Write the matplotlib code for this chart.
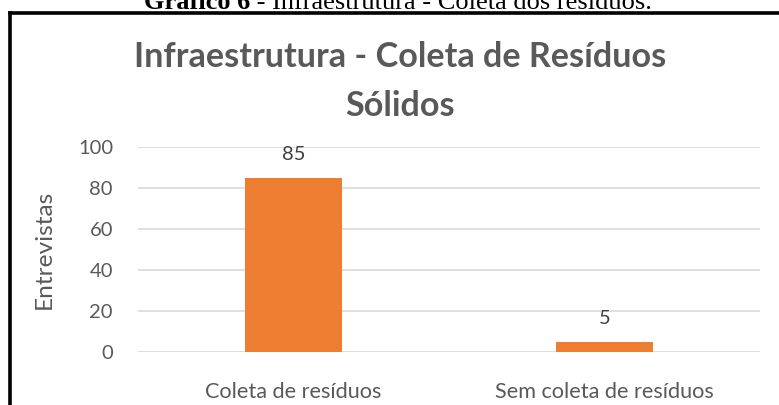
import matplotlib
matplotlib.use("Agg")
import matplotlib.pyplot as plt
from matplotlib.lines import Line2D

# dados do grafico
categorias = ["Coleta de resíduos", "Sem coleta de resíduos"]
valores = [85, 5]
ticks_y = [0, 20, 40, 60, 80, 100]

W, H = 779, 405
fig = plt.figure(figsize=(W / 100, H / 100), dpi=100)
fig.patch.set_facecolor("white")

cinza = "#595959"
laranja = "#ED7D31"
fonte = "Lato"

# moldura (so topo e esquerda aparecem no recorte)
fig.add_artist(Line2D([10 / W, 1.0], [1 - 13 / H, 1 - 13 / H], color="black", lw=2.6,
                      transform=fig.transFigure, solid_capstyle="projecting"))
fig.add_artist(Line2D([10 / W, 10 / W], [0, 1 - 13 / H], color="black", lw=2.6,
                      transform=fig.transFigure))

# legenda de cima (cortada)
renderer = fig.canvas.get_renderer()
t1 = fig.text(144 / W, 1 - 9 / H, "Gráfico 6", fontfamily="Liberation Serif", fontweight="bold",
              fontsize=19, color="black", va="baseline", ha="left")
bb = t1.get_window_extent(renderer)
fig.text(bb.x1 / W, 1 - 9 / H, " - Infraestrutura - Coleta dos resíduos.",
         fontfamily="Liberation Serif", fontsize=19, color="black", va="baseline", ha="left")

ax = fig.add_axes([138 / W, 1 - 352 / H, (760 - 138) / W, (352 - 147) / H])
x = range(len(categorias))
ax.bar(x, valores, width=0.315, color=laranja, zorder=3)
ax.set_xlim(-0.5, 1.5)
ax.set_ylim(0, 100)
ax.set_yticks(ticks_y)
ax.grid(axis="y", color="#d9d9d9", lw=1.2, zorder=0)
for s in ax.spines.values():
    s.set_visible(False)
ax.tick_params(axis="both", length=0, labelsize=14.5, labelcolor=cinza)
ax.tick_params(axis="y", pad=18)
ax.tick_params(axis="x", pad=33, labelsize=15.6)
ax.set_xticks(list(x))
ax.set_xticklabels(categorias, fontfamily=fonte)
for lb in ax.get_xticklabels():
    lb.set_va("baseline")
for lb in ax.get_yticklabels():
    lb.set_fontfamily(fonte)

for i, v in enumerate(valores):
    ax.annotate(str(v), (i, v), xytext=(0, 12.8), textcoords="offset points", ha="center",
                va="baseline", fontsize=14.5, color="#404040", fontfamily=fonte)

ax.set_ylabel("Entrevistas", fontsize=17.6, color=cinza, fontfamily=fonte)
ax.yaxis.set_label_coords((44 - 138) / (760 - 138), 0.5)
ax.yaxis.label.set_va("center")

fig.text(400 / W, 1 - 67 / H, "Infraestrutura - Coleta de Resíduos", fontsize=24.6,
         fontweight="bold", color=cinza, fontfamily=fonte, ha="center", va="baseline")
fig.text(400 / W, 1 - 116 / H, "Sólidos", fontsize=24.6,
         fontweight="bold", color=cinza, fontfamily=fonte, ha="center", va="baseline")

fig.savefig("out.png", dpi=100)
